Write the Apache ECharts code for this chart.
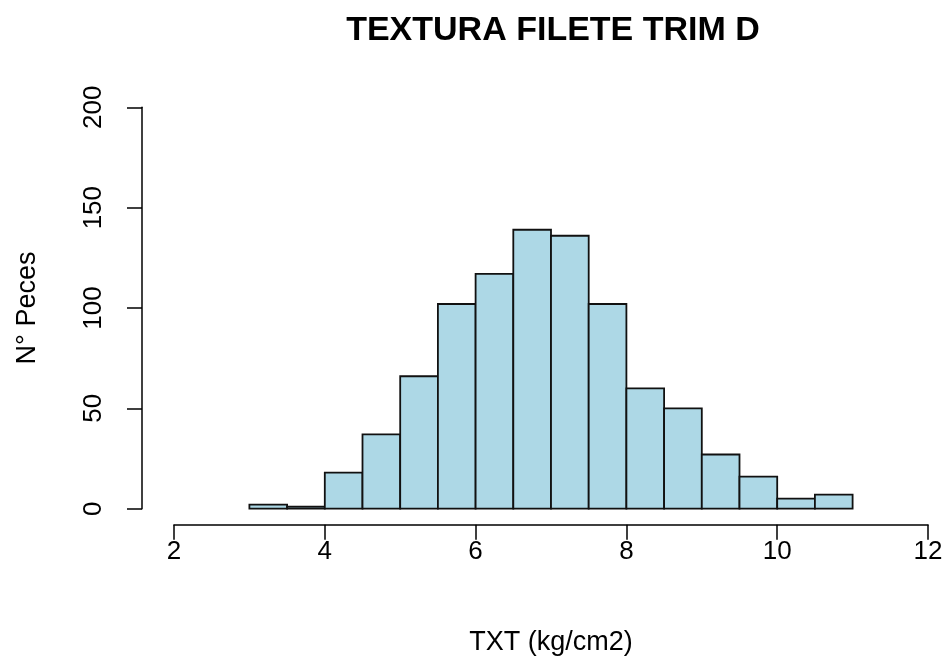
<!DOCTYPE html>
<html>
<head>
<meta charset="utf-8">
<script src="https://cdn.jsdelivr.net/npm/echarts@6/dist/echarts.min.js"></script>
<style>html,body{margin:0;padding:0;background:#fff;}#c{width:950px;height:668px;}</style>
</head>
<body>
<div id="c"></div>
<script>
var binStart = [3, 3.5, 4, 4.5, 5, 5.5, 6, 6.5, 7, 7.5, 8, 8.5, 9, 9.5, 10, 10.5];
var binEnd   = [3.5, 4, 4.5, 5, 5.5, 6, 6.5, 7, 7.5, 8, 8.5, 9, 9.5, 10, 10.5, 11];
var counts   = [2, 1, 18, 37, 66, 102, 117, 139, 136, 102, 60, 50, 27, 16, 5, 7];
var xTicks = [2, 4, 6, 8, 10, 12];
var yTicks = [0, 50, 100, 150, 200];

var FONT = 'Liberation Sans';
var chart = echarts.init(document.getElementById('c'), null, {renderer: 'canvas'});
var data = binStart.map(function (s, i) { return [s, binEnd[i], counts[i]]; });

chart.setOption({
  animation: false,
  backgroundColor: '#ffffff',
  title: {
    text: 'TEXTURA FILETE TRIM D',
    left: 548,
    top: 9,
    textAlign: 'center',
    textStyle: {fontFamily: FONT, fontSize: 34, fontWeight: 'bold', color: '#000'}
  },
  grid: {left: 174, right: 22, top: 107.3, bottom: 159.3, containLabel: false},
  xAxis: {
    type: 'value', min: xTicks[0], max: xTicks[xTicks.length - 1], interval: 2,
    offset: 16,
    name: 'TXT (kg/cm2)', nameLocation: 'middle', nameGap: 104,
    nameTextStyle: {fontFamily: FONT, fontSize: 27, color: '#000'},
    axisLine: {show: true, onZero: false, lineStyle: {color: '#000', width: 1.5}},
    axisTick: {show: true, length: 15, lineStyle: {color: '#000', width: 1.5}},
    axisLabel: {margin: 14, fontFamily: FONT, fontSize: 26, color: '#000'},
    splitLine: {show: false}
  },
  yAxis: {
    type: 'value', min: yTicks[0], max: yTicks[yTicks.length - 1], interval: 50,
    offset: 32,
    name: 'N° Peces', nameLocation: 'middle', nameGap: 101,
    nameTextStyle: {fontFamily: FONT, fontSize: 27, color: '#000'},
    axisLine: {show: true, onZero: false, lineStyle: {color: '#000', width: 1.5}},
    axisTick: {show: true, length: 15, lineStyle: {color: '#000', width: 1.5}},
    axisLabel: {margin: 35, rotate: 90, fontFamily: FONT, fontSize: 26, color: '#000'},
    splitLine: {show: false}
  },
  series: [{
    type: 'custom',
    data: data,
    encode: {x: [0, 1], y: 2},
    renderItem: function (params, api) {
      var p0 = api.coord([api.value(0), api.value(2)]);
      var p1 = api.coord([api.value(1), 0]);
      return {
        type: 'rect',
        shape: {x: p0[0], y: p0[1], width: p1[0] - p0[0], height: p1[1] - p0[1]},
        style: {fill: '#ADD8E6', stroke: '#111', lineWidth: 1.8}
      };
    }
  }]
});
</script>
</body>
</html>
